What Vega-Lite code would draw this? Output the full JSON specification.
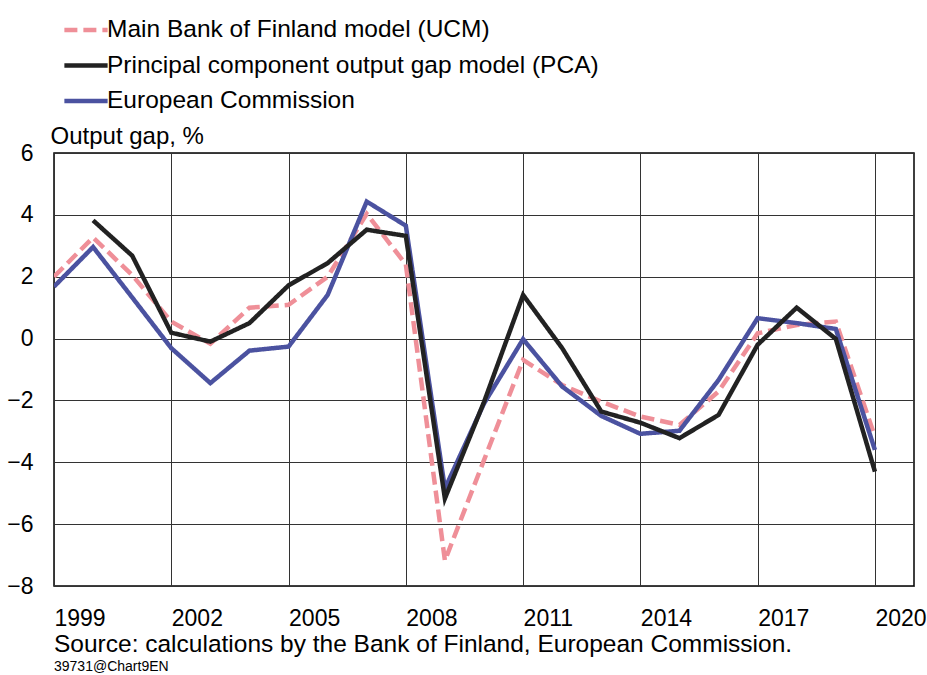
{
  "$schema": "https://vega.github.io/schema/vega-lite/v6.json",
  "width": 860,
  "height": 433,
  "autosize": {"type": "none"},
  "padding": {"left": 54, "top": 153, "right": 13, "bottom": 89},
  "background": "white",
  "config": {
    "font": "Liberation Sans",
    "view": {"stroke": "#000000", "strokeWidth": 1.5}
  },
  "title": {
    "text": "Source: calculations by the Bank of Finland, European Commission.",
    "subtitle": "39731@Chart9EN",
    "orient": "bottom",
    "anchor": "start",
    "frame": "group",
    "offset": 3,
    "fontSize": 24.5,
    "fontWeight": "normal",
    "color": "#000000",
    "subtitleFontSize": 14,
    "subtitleColor": "#000000",
    "subtitlePadding": 2
  },
  "data": {
    "values": [
      {"year": 1999, "ucm": 2.0, "ec": 1.68},
      {"year": 2000, "ucm": 3.27, "pca": 3.82, "ec": 2.96},
      {"year": 2001, "ucm": 2.05, "pca": 2.68, "ec": 1.33},
      {"year": 2002, "ucm": 0.55, "pca": 0.19, "ec": -0.31},
      {"year": 2003, "ucm": -0.17, "pca": -0.1, "ec": -1.44},
      {"year": 2004, "ucm": 1.0, "pca": 0.5, "ec": -0.39},
      {"year": 2005, "ucm": 1.09, "pca": 1.72, "ec": -0.26},
      {"year": 2006, "ucm": 2.0, "pca": 2.44, "ec": 1.41},
      {"year": 2007, "ucm": 4.03, "pca": 3.52, "ec": 4.43},
      {"year": 2008, "ucm": 2.4, "pca": 3.32, "ec": 3.65},
      {"year": 2009, "ucm": -7.18, "pca": -5.17, "ec": -4.85},
      {"year": 2010, "ucm": -3.93, "pca": -2.05, "ec": -2.1},
      {"year": 2011, "ucm": -0.69, "pca": 1.41, "ec": -0.02},
      {"year": 2012, "ucm": -1.5, "pca": -0.31, "ec": -1.55},
      {"year": 2013, "ucm": -2.04, "pca": -2.36, "ec": -2.5},
      {"year": 2014, "ucm": -2.52, "pca": -2.72, "ec": -3.08},
      {"year": 2015, "ucm": -2.79, "pca": -3.22, "ec": -2.98},
      {"year": 2016, "ucm": -1.71, "pca": -2.47, "ec": -1.34},
      {"year": 2017, "ucm": 0.17, "pca": -0.2, "ec": 0.66},
      {"year": 2018, "ucm": 0.44, "pca": 1.0, "ec": 0.5},
      {"year": 2019, "ucm": 0.55, "pca": -0.01, "ec": 0.31},
      {"year": 2020, "ucm": -3.17, "pca": -4.3, "ec": -3.6}
    ]
  },
  "transform": [
    {"fold": ["ucm", "pca", "ec"], "as": ["series", "value"]},
    {"filter": "isValid(datum.value)"}
  ],
  "mark": {"type": "line", "strokeWidth": 4.5, "clip": true},
  "encoding": {
    "x": {
      "field": "year",
      "type": "quantitative",
      "scale": {"domain": [1999, 2021], "nice": false, "zero": false},
      "axis": {
        "values": [1999, 2002, 2005, 2008, 2011, 2014, 2017, 2020],
        "format": "d",
        "title": null,
        "grid": true,
        "gridColor": "#333333",
        "gridWidth": 1,
        "domain": false,
        "ticks": false,
        "tickSize": 0,
        "labelAlign": "left",
        "labelBaseline": "alphabetic",
        "labelDx": -2,
        "labelPadding": 39,
        "labelFontSize": 23,
        "labelColor": "#000000",
        "labelFlush": false,
        "labelOverlap": false
      }
    },
    "y": {
      "field": "value",
      "type": "quantitative",
      "scale": {"domain": [-8, 6], "nice": false, "zero": false},
      "axis": {
        "values": [-8, -6, -4, -2, 0, 2, 4, 6],
        "title": "Output gap, %",
        "titleAngle": 0,
        "titleAlign": "left",
        "titleBaseline": "alphabetic",
        "titleX": -4,
        "titleY": -10,
        "titleFontSize": 24,
        "titleFontWeight": "normal",
        "titleColor": "#000000",
        "grid": true,
        "gridColor": "#333333",
        "gridWidth": 1,
        "domain": false,
        "ticks": false,
        "tickSize": 0,
        "labelPadding": 21,
        "labelFontSize": 23,
        "labelColor": "#000000",
        "labelFlush": false,
        "labelOverlap": false
      }
    },
    "color": {
      "field": "series",
      "type": "nominal",
      "scale": {"domain": ["ucm", "pca", "ec"], "range": ["#ef8f98", "#222222", "#4b52a0"]},
      "legend": {
        "title": null,
        "orient": "none",
        "legendX": 17,
        "legendY": -138,
        "direction": "vertical",
        "padding": 0,
        "symbolType": "M-1.73,0H1.73",
        "symbolSize": 625,
        "symbolStrokeWidth": 4.5,
        "labelFontSize": 24.5,
        "labelOffset": 6,
        "labelLimit": 800,
        "labelColor": "#000000",
        "rowPadding": 8.5,
        "labelExpr": "datum.value == 'ucm' ? 'Main Bank of Finland model (UCM)' : datum.value == 'pca' ? 'Principal component output gap model (PCA)' : 'European Commission'"
      }
    },
    "strokeDash": {
      "field": "series",
      "type": "nominal",
      "scale": {"domain": ["ucm", "pca", "ec"], "range": [[13, 6], [1, 0], [1, 0]]},
      "legend": {
        "title": null,
        "orient": "none",
        "legendX": 17,
        "legendY": -138,
        "direction": "vertical",
        "padding": 0,
        "symbolType": "M-1.73,0H1.73",
        "symbolSize": 625,
        "symbolStrokeWidth": 4.5,
        "labelFontSize": 24.5,
        "labelOffset": 6,
        "labelLimit": 800,
        "labelColor": "#000000",
        "rowPadding": 8.5,
        "labelExpr": "datum.value == 'ucm' ? 'Main Bank of Finland model (UCM)' : datum.value == 'pca' ? 'Principal component output gap model (PCA)' : 'European Commission'"
      }
    }
  }
}
